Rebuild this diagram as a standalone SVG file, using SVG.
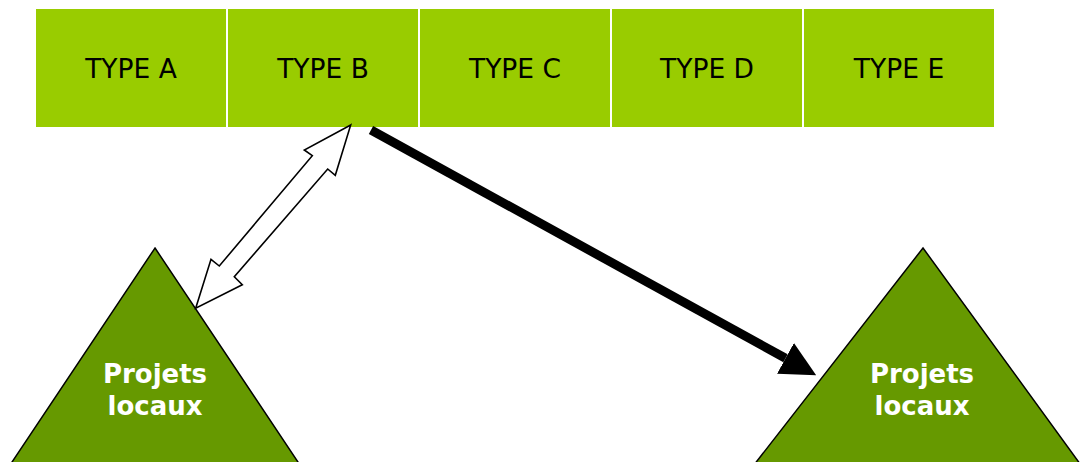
<svg xmlns="http://www.w3.org/2000/svg" width="1080" height="462" viewBox="0 0 1080 462">
<style>
.box{fill:#99CC00;}
.lbl{font-family:"DejaVu Sans",Verdana,sans-serif;font-size:26.5px;fill:#000;text-anchor:middle;}
.tri{fill:#669900;stroke:#000;stroke-width:1.5;stroke-linejoin:miter;}
.tlbl{font-family:"DejaVu Sans",Verdana,sans-serif;font-size:26px;font-weight:bold;fill:#fff;text-anchor:middle;}
.hollow{fill:#fff;stroke:#000;stroke-width:1.6;stroke-linejoin:miter;}
.thick{stroke:#000;stroke-width:9;fill:none;}
</style>
<defs>
<marker id="bighead" markerUnits="userSpaceOnUse" markerWidth="36" markerHeight="36" refX="0" refY="17.5" orient="auto" viewBox="0 0 36 35">
<path d="M0,0 L35,17.5 L0,35 z" fill="#000"/>
</marker>
</defs>
<rect width="1080" height="462" fill="#fff"/>
<g id="typeA"><rect class="box" x="36" y="9" width="190" height="118"/><text class="lbl" x="131" y="78">TYPE A</text></g>
<g id="typeB"><rect class="box" x="228" y="9" width="190" height="118"/><text class="lbl" x="323" y="78">TYPE B</text></g>
<g id="typeC"><rect class="box" x="420" y="9" width="190" height="118"/><text class="lbl" x="515" y="78">TYPE C</text></g>
<g id="typeD"><rect class="box" x="612" y="9" width="190" height="118"/><text class="lbl" x="707" y="78">TYPE D</text></g>
<g id="typeE"><rect class="box" x="804" y="9" width="190" height="118"/><text class="lbl" x="899" y="78">TYPE E</text></g>
<g id="projetsLeft">
<polygon class="tri" points="155,248 303.3,470 6.7,470"/>
<text class="tlbl" x="155" y="383">Projets</text>
<text class="tlbl" x="155" y="415">locaux</text>
</g>
<g id="projetsRight">
<polygon class="tri" points="923,248 1084.5,470 750,470"/>
<text class="tlbl" x="922" y="383">Projets</text>
<text class="tlbl" x="922" y="415">locaux</text>
</g>
<g id="connectors">
<polygon class="hollow" points="350.7,125 304.3,150 312.3,155.7 219.3,266 211,259.3 195.7,308.3 242.3,284.7 234.3,276.7 327.7,169 335.3,175.3"/>
<line class="thick" x1="371" y1="130" x2="785.5" y2="358.3" marker-end="url(#bighead)"/>
</g>
</svg>
